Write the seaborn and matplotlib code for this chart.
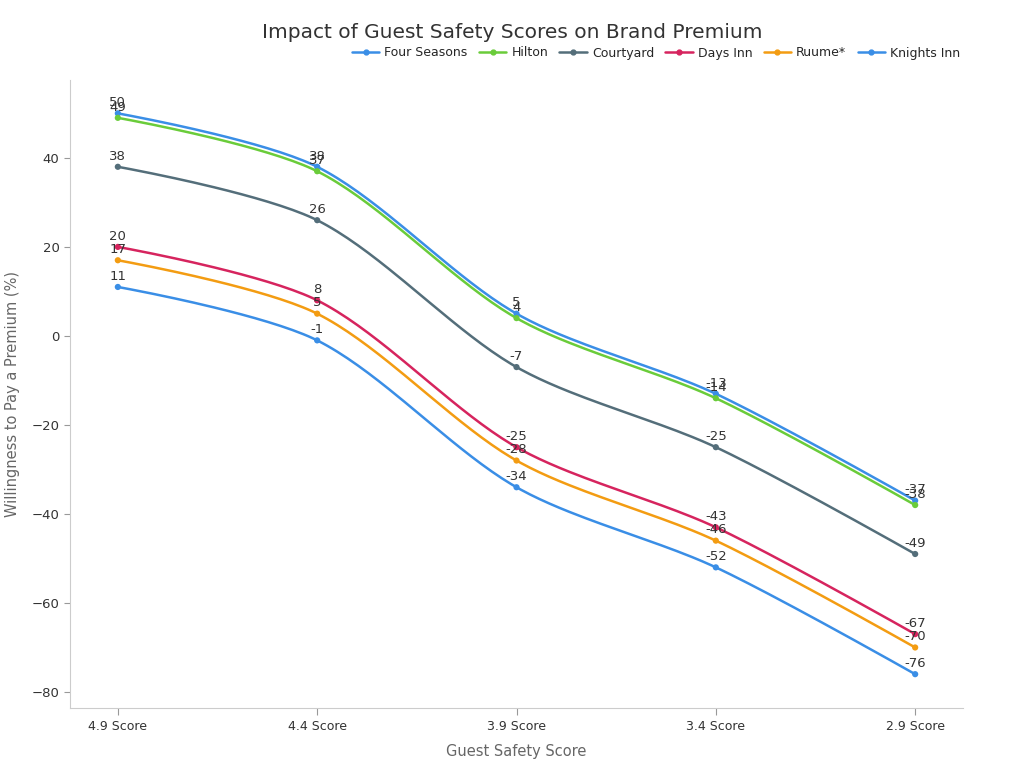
import numpy as np
import pandas as pd
import matplotlib
matplotlib.use("Agg")
import matplotlib.pyplot as plt
import seaborn as sns
from matplotlib.lines import Line2D

categories = ["4.9 Score", "4.4 Score", "3.9 Score", "3.4 Score", "2.9 Score"]
brands = ["Four Seasons", "Hilton", "Courtyard", "Days Inn", "Ruume*", "Knights Inn"]
four_seasons = [50, 38, 5, -13, -37]
hilton = [49, 37, 4, -14, -38]
courtyard = [38, 26, -7, -25, -49]
days_inn = [20, 8, -25, -43, -67]
ruume = [17, 5, -28, -46, -70]
knights_inn = [11, -1, -34, -52, -76]
series = [four_seasons, hilton, courtyard, days_inn, ruume, knights_inn]
colors = ["#3a8ee6", "#6acc3a", "#546e7a", "#d6245e", "#f39c12", "#3a8ee6"]

rows = []
for b, vals in zip(brands, series):
    for i, (c, v) in enumerate(zip(categories, vals)):
        rows.append({"Brand": b, "Score": c, "x": i, "Value": v})
df = pd.DataFrame(rows)

sns.set_theme(style="white")
plt.rcParams["font.family"] = ["DejaVu Sans"]

fig = plt.figure(figsize=(10.24, 7.68), dpi=100)
ax = fig.add_axes([70/1024, 1-708/768, (963-70)/1024, (708-80)/768])

XSCALE = 199.25 / 4.45  # pixel aspect so smoothing behaves like on screen


def smooth_path(xs, ys, smooth=0.3, n=40):
    pts = np.column_stack([np.asarray(xs, float) * XSCALE, np.asarray(ys, float)])
    m = len(pts)
    cps = []
    for i in range(m):
        if i == 0 or i == m - 1:
            cps.append((pts[i], pts[i]))
            continue
        prev, cur, nxt = pts[i-1], pts[i], pts[i+1]
        d = nxt - prev
        d0 = np.linalg.norm(cur - prev)
        d1 = np.linalg.norm(nxt - cur)
        r = d1 / (d0 + d1)
        c_in = cur - d * smooth * (1 - r)
        c_out = cur + d * smooth * r
        cps.append((c_in, c_out))
    out = []
    t = np.linspace(0, 1, n)[:, None]
    for i in range(m - 1):
        p0 = pts[i]; p3 = pts[i+1]
        p1 = cps[i][1]; p2 = cps[i+1][0]
        seg = ((1-t)**3)*p0 + 3*((1-t)**2)*t*p1 + 3*(1-t)*(t**2)*p2 + (t**3)*p3
        out.append(seg if i == 0 else seg[1:])
    out = np.vstack(out)
    return out[:, 0] / XSCALE, out[:, 1]


for b, col in zip(brands, colors):
    sub = df[df["Brand"] == b]
    sx, sy = smooth_path(sub["x"].values, sub["Value"].values)
    ax.plot(sx, sy, color=col, lw=1.8, zorder=2)

palette = dict(zip(brands, colors))
sns.scatterplot(data=df, x="x", y="Value", hue="Brand", palette=palette,
                s=20, edgecolor="none", ax=ax, legend=False, zorder=3)

for _, r in df.iterrows():
    ax.annotate(f"{r['Value']:g}", (r["x"], r["Value"]), xytext=(0, 3),
                textcoords="offset points", ha="center", va="bottom",
                fontsize=9.5, color="#333333", zorder=4)

handles = [Line2D([0], [0], color=c, lw=1.8, marker="o", markersize=3.5) for c in colors]
fig.legend(handles, brands, loc="center", bbox_to_anchor=(656/1024, 1-53/768),
           ncol=6, frameon=False, fontsize=9, handlelength=2.2,
           handletextpad=0.4, columnspacing=0.9)

ax.set_xlim(-0.24, 4.24)
ax.set_ylim(-83.6, 57.5)
ax.set_xticks(range(len(categories)))
ax.set_xticklabels(categories, fontsize=9, color="#333333")
ax.set_yticks([-80, -60, -40, -20, 0, 20, 40])
ax.tick_params(axis="y", labelsize=9.5, colors="#333333", length=4, width=0.8, left=True)
ax.tick_params(axis="x", length=5, width=0.8, bottom=True, colors="#333333")
for s in ["top", "right"]:
    ax.spines[s].set_visible(False)
for s in ["left", "bottom"]:
    ax.spines[s].set_color("#cccccc")
    ax.spines[s].set_linewidth(0.8)
ax.tick_params(axis="both", color="#999999")

ax.set_xlabel("Guest Safety Score", fontsize=10.5, color="#666666", labelpad=8)
ax.set_ylabel("Willingness to Pay a Premium (%)", fontsize=10.5, color="#666666", labelpad=8)
fig.text(512/1024, 1-33/768, "Impact of Guest Safety Scores on Brand Premium",
         ha="center", va="center", fontsize=14.5, color="#333333")

fig.savefig("out.png", dpi=100)
